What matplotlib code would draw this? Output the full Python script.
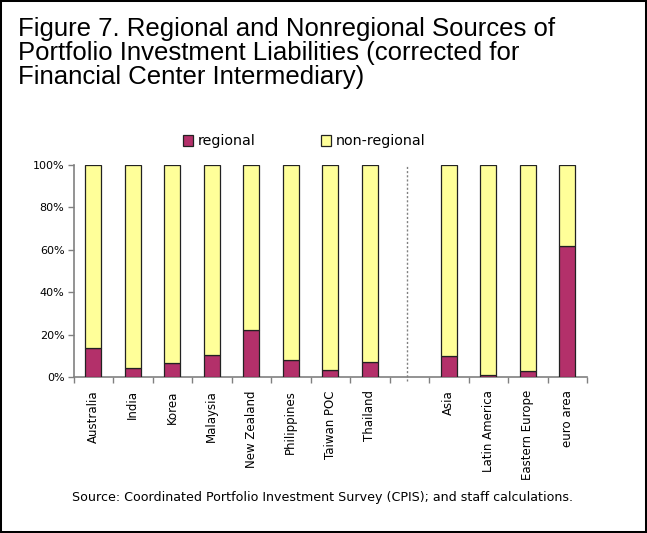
import numpy as np
import matplotlib.pyplot as plt
from matplotlib.patches import Rectangle, Patch
from matplotlib.ticker import FuncFormatter, FixedLocator

# Data (share of portfolio investment liabilities, %)
categories = ['Australia', 'India', 'Korea', 'Malaysia', 'New Zealand',
              'Philippines', 'Taiwan POC', 'Thailand', '',
              'Asia', 'Latin America', 'Eastern Europe', 'euro area']
regional = [13.5, 4.1, 6.4, 10.4, 22.2, 8.2, 3.3, 7.2, np.nan, 9.7, 1.1, 3.0, 61.6]
non_regional = [86.5, 95.9, 93.6, 89.6, 77.8, 91.8, 96.7, 92.8, np.nan, 90.3, 98.9, 97.0, 38.4]

title = ('Figure 7. Regional and Nonregional Sources of\n'
         'Portfolio Investment Liabilities (corrected for\n'
         'Financial Center Intermediary)')
source = 'Source: Coordinated Portfolio Investment Survey (CPIS); and staff calculations.'

c_reg = '#B3306A'
c_non = '#FFFF99'

W, H = 647, 533
fig = plt.figure(figsize=(W / 100, H / 100), dpi=100)

# axes placed in pixel terms
left, right, top, bottom = 73.5, 587, 165, 377
ax = fig.add_axes([left / W, 1 - bottom / H, (right - left) / W, (bottom - top) / H])

x = np.arange(len(categories))
reg = np.array(regional, dtype=float)
non = np.array(non_regional, dtype=float)
m = ~np.isnan(reg)

ax.bar(x[m], reg[m], width=0.4, color=c_reg, edgecolor='#222222', lw=0.9, zorder=3)
ax.bar(x[m], non[m], bottom=reg[m], width=0.4, color=c_non, edgecolor='#222222', lw=0.9, zorder=3)

ax.set_xlim(-0.5, len(categories) - 0.5)
ax.set_ylim(0, 100)

# separator between countries and regions
ax.plot([7.95, 7.95], [-1.8, 100], ls=(0, (1.5, 1.5)), color='#808080', lw=1.0, clip_on=False)

# ticks
ax.set_yticks(np.arange(0, 101, 20))
ax.yaxis.set_major_formatter(FuncFormatter(lambda v, p: '%d%%' % v))
ax.set_xticks(x)
ax.set_xticklabels(categories, rotation=90, fontsize=8.5, va='top')
ax.xaxis.set_minor_locator(FixedLocator(np.arange(-0.5, len(categories), 1.0)))
ax.tick_params(axis='x', which='major', length=0, pad=9.5)
ax.tick_params(axis='x', which='minor', length=4, width=1, color='#808080', direction='out')
ax.tick_params(axis='y', length=4, width=1, color='#808080', pad=2.5, labelsize=8)

for s in ['top', 'right']:
    ax.spines[s].set_visible(False)
for s in ['left', 'bottom']:
    ax.spines[s].set_color('#808080')
    ax.spines[s].set_linewidth(1.2)

# legend
handles = [Patch(facecolor=c_reg, edgecolor='#222222', lw=0.9, label='regional'),
           Patch(facecolor=c_non, edgecolor='#222222', lw=0.9, label='non-regional')]
fig.legend(handles=handles, loc='center', bbox_to_anchor=(304 / W, 1 - 141.5 / H), ncol=2,
           frameon=False, fontsize=10.3, handlelength=0.7, handleheight=0.7,
           handletextpad=0.3, columnspacing=4.6, borderaxespad=0)

# title and source
fig.text(18 / W, 1 - 17 / H, title, family='Liberation Sans', fontsize=18.5,
         ha='left', va='top', linespacing=1.0)
fig.text(323 / W, 1 - 498 / H, source, fontsize=9.1, ha='center', va='center')

# outer frame
fig.patches.append(Rectangle((0, 0), 1, 1, transform=fig.transFigure, fill=False,
                             lw=2.9, edgecolor='black'))

fig.savefig('out.png', dpi=100)
